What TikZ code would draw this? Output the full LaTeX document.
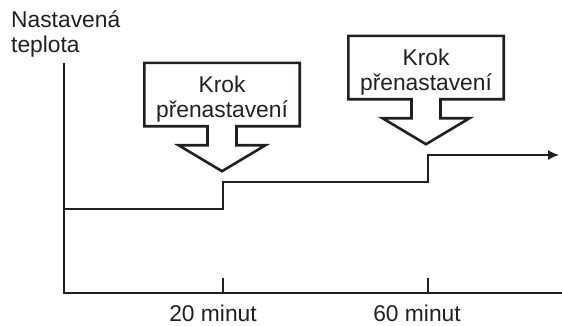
\documentclass[tikz,border=0pt]{standalone}
\usepackage{fontspec}
\setmainfont{Liberation Sans}
\usetikzlibrary{arrows.meta,positioning,calc}
\definecolor{inkgray}{RGB}{35,31,32}

\begin{document}
\begin{tikzpicture}[
    x=1pt,y=-1pt,
    >=Latex,
    lbl/.style={
        inner sep=0pt,
        align=center,
        text=inkgray,
        font=\fontsize{22.8}{25}\selectfont
    },
    callout/.style={
        draw=inkgray,
        line width=2.6pt,
        line join=miter
    },
    stepbox/.style={
        inner sep=0pt,
        minimum width=155pt,
        minimum height=63pt
    },
    axis/.style={draw=inkgray,line width=2pt},
    tick/.style={draw=inkgray,line width=1.5pt},
    level/.style={draw=inkgray,line width=1.4pt}
]
\useasboundingbox (0,0) rectangle (562,325);

% axes
\coordinate (ytop) at (64,63);
\coordinate (origin) at (64,293);
\coordinate (xend) at (562,293);
\draw[axis] (ytop) -- (origin) -- (xend);

\node[lbl,align=left,anchor=north west] (ylabel) at (11,11)
{Nastavená\\teplota};

% time marks
\coordinate (t20) at (223,293);
\coordinate (t60) at (428,293);
\draw[tick] (t20) -- ++(0,-15);
\draw[tick] (t60) -- ++(0,-15);

\node[lbl,anchor=base] (l20) at ($(t20)+(-10,28.5)$) {20 minut};
\node[lbl,anchor=base] (l60) at ($(t60)+(-11,28.5)$) {60 minut};

% set temperature
\coordinate (s0) at (64,209);
\coordinate (s1) at (223,209);
\coordinate (s2) at (223,182);
\coordinate (s3) at (428,182);
\coordinate (s4) at (428,155);
\coordinate (s5) at (559,155);
\draw[level,-{Latex[length=11pt,width=10pt]}]
    (s0) -- (s1) -- (s2) -- (s3) -- (s4) -- (s5);

% callouts
\node[stepbox] (box1) at (222,94.5) {};
\node[stepbox] (box2) at (426,67.5) {};

\node[lbl] (txt1) at ($(box1)+(0,5)$) {Krok\\přenastavení};
\node[lbl] (txt2) at ($(box2)+(0,5)$) {Krok\\přenastavení};

\foreach \b in {box1,box2}{
    \draw[callout]
        ($(\b.south)+(-14.5,0)$) -- (\b.south west) -- (\b.north west)
        -- (\b.north east) -- (\b.south east) -- ($(\b.south)+(14.5,0)$)
        -- ++(0,19) -- ++(29,0) -- ($(\b.south)+(0,45)$)
        -- ($(\b.south)+(-43.5,19)$) -- ($(\b.south)+(-14.5,19)$) -- cycle;
}

\end{tikzpicture}
\end{document}
